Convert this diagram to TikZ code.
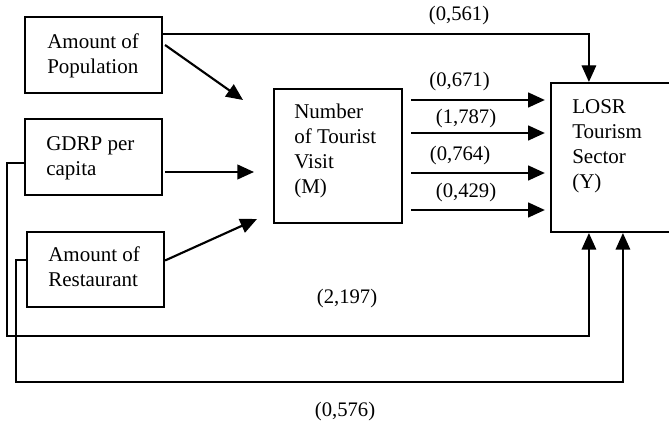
\documentclass[tikz,border=0pt]{standalone}
\usepackage{fontspec}
\setmainfont{Liberation Serif}
\usetikzlibrary{arrows.meta,fit,calc}
\begin{document}
\begin{tikzpicture}[x=0.75pt,y=-0.75pt,
  box/.style={draw, line width=1.6pt, inner sep=0pt},
  txt/.style={font=\fontsize{15.75pt}{18.75pt}\selectfont, align=left, anchor=base west, inner sep=0pt},
  lbl/.style={font=\fontsize{15.5pt}{18pt}\selectfont, inner sep=0pt},
  arr/.style={line width=1.6pt, -{Triangle[length=12.5pt,width=11pt]}},
  longarr/.style={line width=1.1pt, -{Triangle[length=12.5pt,width=11pt]}}]
\useasboundingbox (0,0) rectangle (669,427);

% boxes
\node[box, fit={(25,17)(162,93)}] (pop) {};
\node[box, fit={(25,119)(162,195)}] (gdrp) {};
\node[box, fit={(27,232)(164,307)}] (rest) {};
\node[box, fit={(274,89)(402,223)}] (M) {};
\node[box, fit={(551,83)(720,232)}] (Y) {};

% box texts (base anchor = last line baseline)
\node[txt] (popT) at (47,74) {Amount of\\Population};
\node[txt] (gdrpT) at (46,176) {GDRP per\\capita};
\node[txt] (restT) at (48,287) {Amount of\\Restaurant};
\node[txt] (MT) at (294,194) {Number\\of Tourist\\Visit\\(M)};
\node[txt] (YT) at (572,189) {LOSR\\Tourism\\Sector\\(Y)};

% arrows into M
\coordinate (popTip) at (243,100);
\coordinate (gdrpTip) at (254,172);
\coordinate (restTip) at (257,219);
\draw[arr] ($(pop.east)+(2,-10)$) -- (popTip);
\draw[arr] ($(gdrp.east)+(2,15)$) -- (gdrpTip);
\draw[arr] ($(rest.east)+(0,-9)$) -- (restTip);

% arrows M -> Y
\foreach \yy in {100,133,173,210}
  \draw[arr, shorten <=6pt, shorten >=3.8pt] (M.east |- 0,\yy) -- (Y.west |- 0,\yy);

% direct paths to Y
\draw[longarr] ($(pop.east)+(0,-21)$) -| ($(Y.north west)+(39,0)$);
\draw[longarr] ($(gdrp.west)+(0,6)$) -| (7,336) -| ($(Y.south west)+(39,0)$);
\draw[longarr] ($(rest.west)+(0,-9.5)$) -| (16,382) -| ($(Y.south west)+(73,0)$);

% labels
\node[lbl] (l561) at (459,16) {(0,561)};
\node[lbl] (l671) at (459.5,82) {(0,671)};
\node[lbl] (l787) at (466,119) {(1,787)};
\node[lbl] (l764) at (460,156) {(0,764)};
\node[lbl] (l429) at (466,193) {(0,429)};
\node[lbl] (l197) at (347,299) {(2,197)};
\node[lbl] (l576) at (345,412) {(0,576)};
\end{tikzpicture}
\end{document}
